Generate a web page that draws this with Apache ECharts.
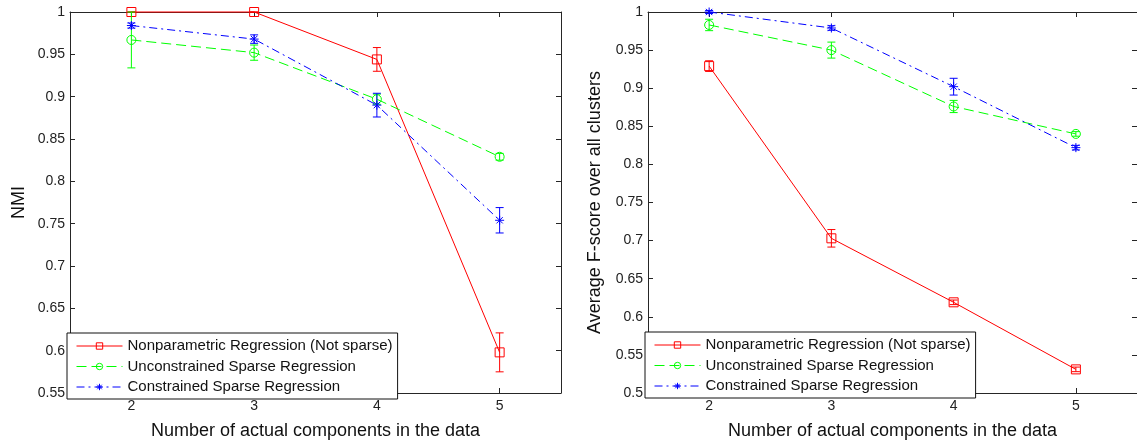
<!DOCTYPE html>
<html>
<head>
<meta charset="utf-8">
<script src="https://cdn.jsdelivr.net/npm/echarts@6/dist/echarts.min.js"></script>
<style>
html,body{margin:0;padding:0;background:#fff;}
#chart{width:1137px;height:445px;}
</style>
</head>
<body>
<div id="chart"></div>
<script>
// ---- data ----
const categories = ['2', '3', '4', '5'];
const seriesNames = ['Nonparametric Regression (Not sparse)', 'Unconstrained Sparse Regression', 'Constrained Sparse Regression'];

// NMI (left panel)
const nmiNonparam = [1.000, 1.000, 0.944, 0.598];
const nmiNonparamErr = [0.000, 0.000, 0.014, 0.023];
const nmiUnconstrained = [0.967, 0.952, 0.897, 0.829];
const nmiUnconstrainedErr = [0.033, 0.009, 0.006, 0.004];
const nmiConstrained = [0.984, 0.968, 0.890, 0.754];
const nmiConstrainedErr = [0.003, 0.005, 0.014, 0.015];

// Average F-score (right panel)
const fNonparam = [0.929, 0.703, 0.619, 0.531];
const fNonparamErr = [0.007, 0.0115, 0.003, 0.003];
const fUnconstrained = [0.983, 0.950, 0.876, 0.840];
const fUnconstrainedErr = [0.0075, 0.0105, 0.008, 0.003];
const fConstrained = [1.000, 0.979, 0.902, 0.822];
const fConstrainedErr = [0.002, 0.003, 0.011, 0.003];

const leftYTicks = { min: 0.55, max: 1, step: 0.05 };
const rightYTicks = { min: 0.5, max: 1, step: 0.05 };

// ---- styling ----
const FONT = '"Liberation Sans", Arial, sans-serif';
const AX = '#262626';
const colors = ['#ff0000', '#00ff00', '#0000ff'];
const symbols = [
  'path://M0,0L10,0L10,10L0,10Z',
  'circle',
  'path://M5,0L5,10M0,5L10,5M1.5,1.5L8.5,8.5M8.5,1.5L1.5,8.5'
];
const dashes = ['solid', [10, 5], [8, 4, 2, 4]];

function xAxes(gridIndex) {
  const base = {
    type: 'category', data: categories, gridIndex: gridIndex, boundaryGap: true,
    axisLine: { show: true, onZero: false, lineStyle: { color: AX, width: 1 } },
    axisTick: { show: true, inside: true, alignWithLabel: true, length: 5, lineStyle: { color: AX } },
    splitLine: { show: false }
  };
  return [
    Object.assign({}, base, {
      position: 'bottom',
      axisLabel: { show: true, margin: 6, fontSize: 14, color: '#222', fontFamily: FONT },
      name: 'Number of actual components in the data', nameLocation: 'middle', nameGap: 29,
      nameTextStyle: { fontSize: 18, color: '#111', fontFamily: FONT }
    }),
    Object.assign({}, base, { position: 'top', axisLabel: { show: false } })
  ];
}
function yAxes(gridIndex, t, name, gap) {
  const base = {
    type: 'value', gridIndex: gridIndex, min: t.min, max: t.max, interval: t.step,
    axisLine: { show: true, lineStyle: { color: AX, width: 1 } },
    axisTick: { show: true, inside: true, length: 5, lineStyle: { color: AX } },
    splitLine: { show: false }
  };
  return [
    Object.assign({}, base, {
      position: 'left',
      axisLabel: { show: true, margin: 5, fontSize: 14, color: '#222', fontFamily: FONT,
        formatter: v => String(+(+v).toFixed(2)) },
      name: name, nameLocation: 'middle', nameGap: gap,
      nameTextStyle: { fontSize: 18, color: '#111', fontFamily: FONT }
    }),
    Object.assign({}, base, { position: 'right', axisLabel: { show: false } })
  ];
}

function lineSeries(i, values, xIdx, yIdx) {
  return {
    type: 'line', name: seriesNames[i], xAxisIndex: xIdx, yAxisIndex: yIdx,
    data: values, symbol: symbols[i], symbolSize: 9, clip: false,
    showSymbol: true, z: 3 + i,
    lineStyle: { color: colors[i], width: 1, type: dashes[i] },
    itemStyle: { color: 'rgba(0,0,0,0)', borderColor: colors[i], borderWidth: 1 },
    emphasis: { disabled: true }, animation: false
  };
}
function errSeries(i, values, errs, xIdx, yIdx) {
  return {
    type: 'custom', xAxisIndex: xIdx, yAxisIndex: yIdx, clip: false, z: 3 + i, silent: true,
    data: values.map((v, k) => [k, v - errs[k], v + errs[k]]),
    renderItem: function (params, api) {
      const lo = api.coord([api.value(0), api.value(1)]);
      const hi = api.coord([api.value(0), api.value(2)]);
      const hw = 4;
      const st = { stroke: colors[i], lineWidth: 1 };
      return {
        type: 'group', children: [
          { type: 'line', shape: { x1: lo[0], y1: lo[1], x2: hi[0], y2: hi[1] }, style: st },
          { type: 'line', shape: { x1: lo[0] - hw, y1: lo[1], x2: lo[0] + hw, y2: lo[1] }, style: st },
          { type: 'line', shape: { x1: hi[0] - hw, y1: hi[1], x2: hi[0] + hw, y2: hi[1] }, style: st }
        ]
      };
    },
    animation: false
  };
}

function legend(left, top) {
  return {
    left: left, top: top, orient: 'vertical', data: seriesNames,
    backgroundColor: '#fff', borderColor: '#111', borderWidth: 1,
    padding: [5, 5, 4, 9], itemWidth: 46, itemHeight: 8, itemGap: 4.5,
    lineStyle: { width: 1 },
    itemStyle: { borderWidth: 1 },
    textStyle: { fontSize: 15, color: '#111', fontFamily: FONT, lineHeight: 16 },
    selectedMode: false, z: 10
  };
}

const left = [[nmiNonparam, nmiNonparamErr], [nmiUnconstrained, nmiUnconstrainedErr], [nmiConstrained, nmiConstrainedErr]];
const right = [[fNonparam, fNonparamErr], [fUnconstrained, fUnconstrainedErr], [fConstrained, fConstrainedErr]];

const series = [];
left.forEach((d, i) => { series.push(errSeries(i, d[0], d[1], 0, 0)); series.push(lineSeries(i, d[0], 0, 0)); });
right.forEach((d, i) => { series.push(errSeries(i, d[0], d[1], 2, 2)); series.push(lineSeries(i, d[0], 2, 2)); });

const option = {
  backgroundColor: '#fff',
  animation: false,
  textStyle: { fontFamily: FONT },
  grid: [
    { left: 70, top: 12, width: 491, height: 386, containLabel: false },
    { left: 648, top: 12, width: 489, height: 385, containLabel: false }
  ],
  xAxis: xAxes(0).concat(xAxes(1)),
  yAxis: yAxes(0, leftYTicks, 'NMI', 42).concat(yAxes(1, rightYTicks, 'Average F-score over all clusters', 44)),
  legend: [legend(67, 333), legend(645, 332)],
  series: series
};

const chart = echarts.init(document.getElementById('chart'), null, { renderer: 'canvas' });
chart.setOption(option);
</script>
</body>
</html>
